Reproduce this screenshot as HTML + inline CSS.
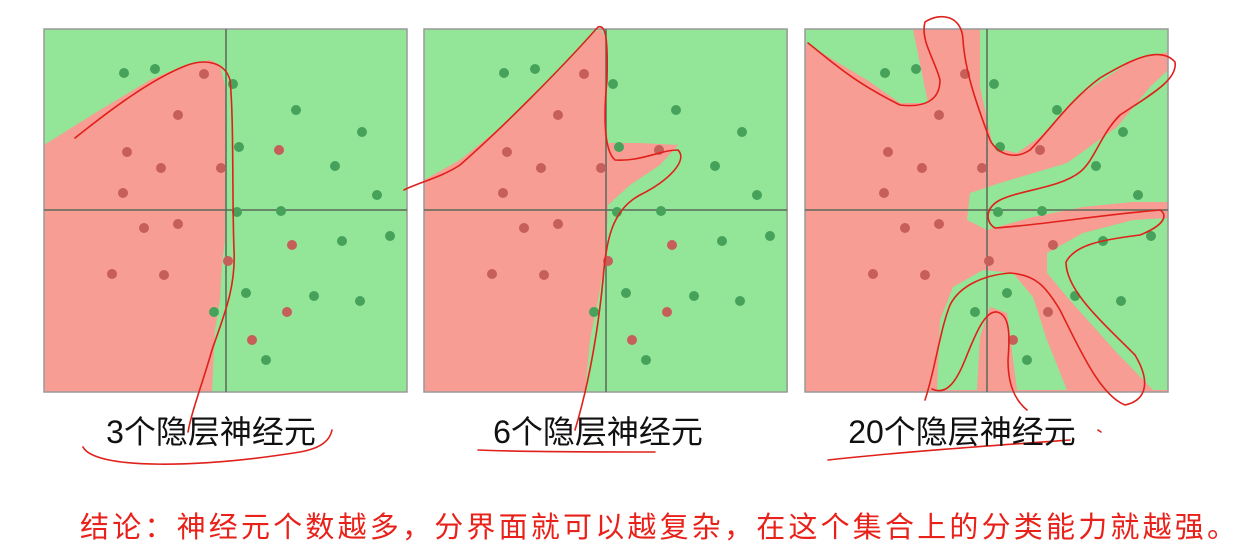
<!DOCTYPE html>
<html><head><meta charset="utf-8"><style>
html,body{margin:0;padding:0;background:#fff;width:1252px;height:557px;overflow:hidden}
svg{display:block}
.lbl{font-family:"Liberation Sans","Noto Sans CJK SC",sans-serif;font-size:32px;fill:#111}
.concl{font-family:"Liberation Sans","Noto Sans CJK SC",sans-serif;font-size:29px;fill:#e8221a;letter-spacing:3.2px}
.pen{fill:none;stroke:#e0201a;stroke-width:1.6;stroke-linecap:round;stroke-linejoin:round}
</style></head><body>
<svg id="chart" width="1252" height="557" viewBox="0 0 1252 557">
<rect x="0" y="0" width="1252" height="557" fill="#fff"/>
<g>
<rect x="44" y="29" width="363" height="363" fill="#93e597"/>
<path fill="#f79d93" d="M44,145 L60,135 L100,110 L150,80 L185,65 L210,60 L220,65 L226,90 L225,240 L222,265 L220,300 L215,330 L212,392 L44,392 Z"/>
</g>
<g>
<rect x="424" y="29" width="364" height="363" fill="#93e597"/>
<path fill="#f79d93" d="M424,180 L460,160 L510,120 L560,70 L595,32 L601,29 L606,40 L606,143 L640,143 L678,145 L660,165 L630,185 L608,205 L606,253 L598,300 L590,340 L585,392 L424,392 Z"/>
</g>
<g>
<rect x="805" y="29" width="363" height="363" fill="#f79d93"/>
<path fill="#93e597" d="M805,29 L913,29 L928,103 L900,103 L867,80 L805,43 Z"/>
<path fill="#93e597" d="M980,29 L1168,29 L1168,52 L1133,60 L1083,93 L1040,137 L1017,153 L993,147 L980,87 Z"/>
<path fill="#93e597" d="M1168,70 L1168,202 L1133,202 L1083,207 L1033,217 L987,230 L967,220 L970,193 L1000,183 L1067,163 L1117,127 L1150,87 Z"/>
<path fill="#93e597" d="M1168,218 L1168,390 L1153,390 L1117,353 L1067,297 L1047,273 L1047,253 L1083,233 L1133,220 Z"/>
<path fill="#93e597" d="M937,390 L940,320 L953,287 L983,270 L1013,273 L1033,297 L1047,340 L1067,390 Z"/>
<path fill="#f79d93" d="M990,307 L1007,313 L1017,390 L977,390 L980,337 Z"/>
</g>
<g id="axes"></g>
<g id="dots"></g>
<g>
<path class="pen" d="M75,138 C110,110 150,80 185,66 C205,58 225,62 230,80 C234,120 232,200 234,250 C236,290 222,320 212,350 C202,385 192,410 188,432"/>
<path class="pen" d="M83,447 C95,470 200,468 300,452 C322,448 330,440 332,430"/>
<path class="pen" d="M404,190 C420,182 440,178 460,165 C500,130 560,70 598,27 C606,24 608,40 607,80 C604,110 603,150 615,160 C640,162 660,150 678,150 C688,160 670,180 640,195 C612,210 606,240 603,280 C598,330 590,380 575,430"/>
<path class="pen" d="M478,450 C520,452 600,452 655,452"/>
<path class="pen" d="M808,43 C830,60 850,80 900,105 C925,108 940,100 940,80 C935,60 920,40 925,22 C940,12 962,15 963,40 C965,70 975,100 990,140 C998,155 1015,160 1030,150 C1050,130 1070,100 1100,78 C1130,60 1160,45 1175,62 C1178,80 1150,95 1120,115 C1100,135 1095,160 1080,172 C1060,188 1020,190 1000,200 C985,208 985,222 995,228 C1040,225 1100,215 1160,210 C1168,215 1165,225 1140,235 C1100,240 1075,245 1066,262 C1066,290 1100,320 1135,355 C1150,380 1148,400 1125,405 C1100,395 1080,350 1060,310 C1045,285 1035,275 1010,273 C985,275 960,285 950,305 C940,330 935,370 925,400"/>
<path class="pen" d="M932,389 C945,395 955,385 965,360 C975,335 985,310 997,312 C1010,315 1010,335 1008,360 C1008,385 1015,400 1027,410"/>
<path class="pen" d="M828,460 C900,452 1000,445 1070,440"/>
<path class="pen" d="M1098,430 L1101,432"/>
</g>
<text class="lbl" x="211" y="443" text-anchor="middle">3个隐层神经元</text>
<text class="lbl" x="598" y="443" text-anchor="middle">6个隐层神经元</text>
<text class="lbl" x="962" y="443" text-anchor="middle">20个隐层神经元</text>
<text class="concl" x="80" y="537">结论：神经元个数越多，分界面就可以越复杂，在这个集合上的分类能力就越强。</text>
</svg>
<script>
const greenX = [80,111,189,252,318,291,195,333,193,237,298,346,202,270,316,170,222];
const greenY = [44,40,55,81,103,137,118,166,183,182,212,207,264,267,272,283,331];
const redX = [160,134,83,117,79,177,235,100,134,248,68,120,184,243,208];
const redY = [45,86,123,139,164,139,121,199,195,216,245,246,232,283,311];
const panelLeft = [44,424,805];
const PANEL_TOP = 29, PANEL_SIZE = 363;
function sx(p, v){ return panelLeft[p] + v * PANEL_SIZE / 363; }
function sy(v){ return PANEL_TOP + v * PANEL_SIZE / 363; }
const NS = 'http://www.w3.org/2000/svg';
const axes = document.getElementById('axes');
const dots = document.getElementById('dots');
for (let p = 0; p < 3; p++) {
  const b = document.createElementNS(NS,'rect');
  b.setAttribute('x', panelLeft[p]); b.setAttribute('y', PANEL_TOP);
  b.setAttribute('width', PANEL_SIZE); b.setAttribute('height', PANEL_SIZE);
  b.setAttribute('fill','none'); b.setAttribute('stroke','#9a9a9a'); b.setAttribute('stroke-width','1.5');
  
  
  axes.appendChild(b);
  const v = document.createElementNS(NS,'line');
  v.setAttribute('x1', sx(p,182)); v.setAttribute('x2', sx(p,182));
  v.setAttribute('y1', sy(0)); v.setAttribute('y2', sy(363));
  v.setAttribute('stroke','#5a6a5a'); v.setAttribute('stroke-width','1.5');
  
  
  axes.appendChild(v);
  const h = document.createElementNS(NS,'line');
  h.setAttribute('x1', sx(p,0)); h.setAttribute('x2', sx(p,363));
  h.setAttribute('y1', sy(181)); h.setAttribute('y2', sy(181));
  h.setAttribute('stroke','#5a6a5a'); h.setAttribute('stroke-width','1.5');
  
  
  axes.appendChild(h);
  for (let i = 0; i < greenX.length; i++) {
    const c = document.createElementNS(NS,'circle');
    c.setAttribute('cx', sx(p, greenX[i])); c.setAttribute('cy', sy(greenY[i]));
    c.setAttribute('r', 5); c.setAttribute('fill', '#46a25a');
    
    
    dots.appendChild(c);
  }
  for (let i = 0; i < redX.length; i++) {
    const c = document.createElementNS(NS,'circle');
    c.setAttribute('cx', sx(p, redX[i])); c.setAttribute('cy', sy(redY[i]));
    c.setAttribute('r', 5); c.setAttribute('fill', '#c65e5a');
    
    
    dots.appendChild(c);
  }
}
</script>
</body></html>
